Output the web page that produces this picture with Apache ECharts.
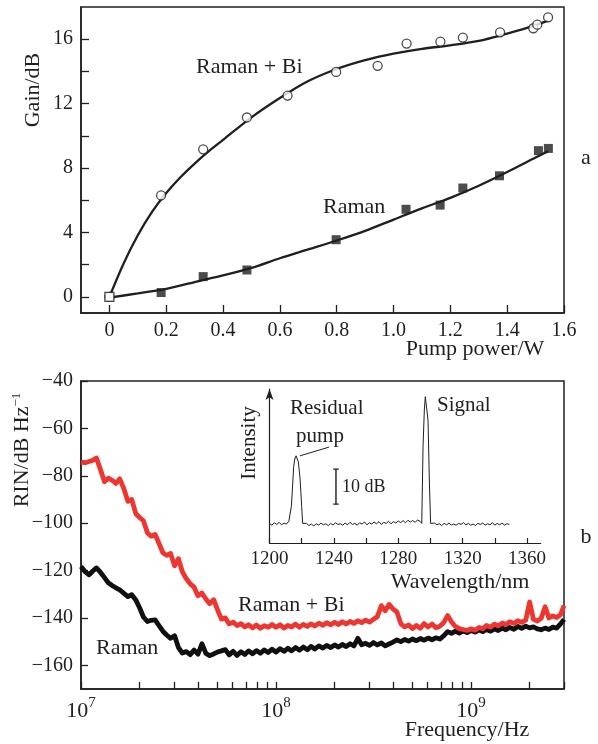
<!DOCTYPE html>
<html><head><meta charset="utf-8">
<script src="https://cdn.jsdelivr.net/npm/echarts@6/dist/echarts.min.js"></script>
<style>html,body{margin:0;padding:0;background:#fff}#c{width:598px;height:744px}</style>
</head><body><div id="c"></div>
<script>
// ---------- (a) Gain vs pump power ----------
const pumpBi = [0, 0.182, 0.33, 0.484, 0.627, 0.798, 0.944, 1.046, 1.165, 1.244, 1.375, 1.492, 1.506, 1.544];
const gainBi = [0, 6.3, 9.16, 11.14, 12.5, 13.97, 14.35, 15.73, 15.85, 16.1, 16.43, 16.68, 16.9, 17.36];
const pumpRaman = [0, 0.182, 0.33, 0.484, 0.798, 1.044, 1.164, 1.244, 1.373, 1.51, 1.545];
const gainRaman = [0, 0.27, 1.26, 1.67, 3.55, 5.44, 5.7, 6.76, 7.52, 9.08, 9.22];
const fitBiX = [0, 0.05, 0.1, 0.15, 0.2, 0.25, 0.3, 0.35, 0.4, 0.5, 0.6, 0.7, 0.8, 0.9, 1.0, 1.1, 1.2, 1.3, 1.4, 1.47, 1.545];
const fitBiY = [0, 2.08, 3.83, 5.28, 6.45, 7.43, 8.28, 9.05, 9.75, 11.15, 12.35, 13.4, 14.15, 14.7, 15.1, 15.4, 15.62, 15.9, 16.35, 16.7, 17.15];
const fitRamanX = [0, 0.1, 0.2, 0.3, 0.4, 0.5, 0.6, 0.7, 0.8, 0.9, 1.0, 1.1, 1.2, 1.3, 1.4, 1.5, 1.545];
const fitRamanY = [-0.05, 0.22, 0.5, 0.92, 1.33, 1.8, 2.4, 2.95, 3.5, 4.1, 4.8, 5.5, 6.15, 6.9, 7.75, 8.65, 9.05];
const pumpTicks = [0, 0.2, 0.4, 0.6, 0.8, 1.0, 1.2, 1.4, 1.6];
const gainTicks = [0, 2, 4, 6, 8, 10, 12, 14, 16];
const gainLabels = [0, 4, 8, 12, 16];

// ---------- (b) RIN spectra ----------
const freqHz = [
1.00e7,1.05e7,1.10e7,1.15e7,1.20e7,1.26e7,1.32e7,1.38e7,1.45e7,1.51e7,1.58e7,1.66e7,1.74e7,1.82e7,1.91e7,2.00e7,2.09e7,2.19e7,2.29e7,2.40e7,2.51e7,2.63e7,2.75e7,2.88e7,3.02e7,3.16e7,3.31e7,3.47e7,3.63e7,3.80e7,3.98e7,4.17e7,4.37e7,4.57e7,4.79e7,5.01e7,5.25e7,5.50e7,5.75e7,6.03e7,6.31e7,6.61e7,6.92e7,7.24e7,7.59e7,7.94e7,8.32e7,8.71e7,9.12e7,9.55e7,
1.00e8,1.05e8,1.10e8,1.15e8,1.20e8,1.26e8,1.32e8,1.38e8,1.45e8,1.51e8,1.58e8,1.66e8,1.74e8,1.82e8,1.91e8,2.00e8,2.09e8,2.19e8,2.29e8,2.40e8,2.51e8,2.63e8,2.75e8,2.88e8,3.02e8,3.16e8,3.31e8,3.47e8,3.63e8,3.80e8,3.98e8,4.17e8,4.37e8,4.57e8,4.79e8,5.01e8,5.25e8,5.50e8,5.75e8,6.03e8,6.31e8,6.61e8,6.92e8,7.24e8,7.59e8,7.94e8,8.32e8,8.71e8,9.12e8,9.55e8,
1.00e9,1.05e9,1.10e9,1.15e9,1.20e9,1.26e9,1.32e9,1.38e9,1.45e9,1.51e9,1.58e9,1.66e9,1.74e9,1.82e9,1.91e9,2.00e9,2.09e9,2.19e9,2.29e9,2.40e9,2.51e9,2.63e9,2.75e9,2.88e9,3.00e9];
const rinBi = [
-74.2,-74.5,-74.0,-73.5,-72.5,-77.5,-82.5,-81.0,-82.0,-83.2,
-81.3,-85.5,-90.8,-90.0,-96.0,-97.6,-99.0,-104.0,-105.5,-104.8,
-108.5,-112.5,-113.6,-112.8,-118.0,-115.0,-120.5,-123.5,-125.6,-127.0,
-130.6,-129.5,-132.0,-134.0,-132.3,-136.5,-140.5,-140.0,-142.5,-141.8,
-143.2,-142.4,-143.8,-142.9,-144.2,-143.0,-144.4,-143.3,-143.9,-142.8,
-143.9,-142.9,-144.3,-143.2,-143.8,-142.6,-143.9,-142.7,-143.6,-142.5,
-143.4,-142.2,-143.1,-142.0,-142.9,-141.8,-142.8,-141.6,-142.6,-141.5,
-142.3,-141.2,-142.0,-140.9,-141.8,-140.6,-139.5,-134.8,-137.0,-134.3,
-136.2,-137.5,-142.5,-143.8,-143.0,-144.5,-143.2,-144.4,-142.4,-143.8,
-142.6,-144.1,-143.5,-142.0,-139.0,-141.6,-143.6,-144.5,-144.9,-145.3,
-144.6,-145.2,-144.0,-144.6,-143.2,-143.9,-142.6,-143.3,-142.1,-142.8,
-141.6,-142.3,-141.2,-141.9,-140.9,-133.3,-140.6,-141.3,-140.2,-135.3,
-140.0,-139.2,-139.8,-138.6,-134.8];
const rinRaman = [
-118.3,-120.5,-121.8,-120.2,-118.9,-120.8,-123.0,-125.2,-126.4,-127.3,
-128.2,-129.6,-131.0,-130.2,-132.4,-135.8,-139.6,-141.5,-141.0,-140.8,
-143.2,-145.6,-147.2,-148.6,-147.5,-152.5,-154.8,-154.2,-155.5,-153.6,
-155.3,-150.9,-155.0,-155.9,-155.2,-154.4,-153.9,-153.4,-155.6,-154.1,
-155.8,-154.3,-155.4,-153.9,-155.1,-153.8,-154.9,-153.5,-154.6,-153.2,
-154.4,-153.0,-154.1,-152.8,-153.9,-152.5,-153.6,-152.3,-153.4,-152.0,
-153.1,-151.8,-152.7,-151.6,-152.5,-151.4,-152.3,-151.2,-152.1,-150.9,
-151.8,-148.6,-151.3,-150.7,-151.6,-150.4,-151.4,-150.6,-151.8,-151.0,
-150.2,-149.3,-150.0,-149.1,-149.8,-148.9,-149.6,-148.7,-149.4,-148.5,
-149.2,-148.4,-148.9,-147.6,-145.8,-146.5,-145.6,-146.4,-145.5,-146.2,
-145.3,-146.0,-145.1,-145.8,-144.9,-145.6,-144.6,-145.3,-144.3,-145.0,
-144.0,-144.8,-143.6,-144.4,-143.5,-144.2,-143.8,-144.6,-145.0,-144.3,
-144.9,-143.9,-144.3,-142.5,-140.6];
const rinTicks = [-160, -140, -120, -100, -80, -60, -40];
const freqLabels = [1e7, 1e8, 1e9];
const freqTicks = [1e7,2e7,3e7,4e7,5e7,6e7,7e7,8e7,9e7,1e8,2e8,3e8,4e8,5e8,6e8,7e8,8e8,9e8,1e9,2e9,3e9];

// ---------- inset: optical spectrum ----------
const spectrum = [
[1200,-60.4],[1201.5,-60.9],[1203,-60.2],[1204.5,-60.7],[1206,-60.1],[1207.5,-60.8],[1209,-60.3],[1210.5,-60.6],[1212,-59.8],[1212.8,-60.3],
[1213.6,-55.5],[1214.2,-50.9],[1215.0,-44.2],[1215.7,-42.0],[1216.5,-41.1],[1217.2,-41.6],[1217.9,-42.8],[1218.9,-47.1],[1219.5,-51.5],[1220.0,-55.6],[1220.6,-60.4],
[1221.5,-60.9],[1223,-60.4],[1224.5,-61.0],[1226,-60.6],[1227.5,-61.1],[1229,-60.5],[1230.5,-60.9],[1232,-60.3],[1233.5,-60.8],[1235,-60.5],[1236.5,-61.0],[1238,-60.4],[1239.5,-60.9],[1241,-60.2],[1242.5,-60.7],[1244,-60.5],[1245.5,-60.9],[1247,-60.3],[1248.5,-60.8],[1250,-60.1],[1251.5,-60.7],[1253,-60.4],[1254.5,-60.9],[1256,-60.2],[1257.5,-60.6],[1259,-60.0],[1260.5,-60.8],[1262,-60.2],[1263.5,-60.6],[1265,-60.0],[1266.5,-60.5],[1268,-59.9],[1269.5,-60.7],[1271,-60.1],[1272.5,-60.4],[1274,-59.8],[1275.5,-60.5],[1277,-59.9],[1278.5,-60.3],[1280,-59.7],[1281.5,-60.2],[1283,-59.6],[1284.5,-60.2],[1286,-59.5],[1287.5,-60.0],[1289,-59.6],[1290.5,-60.1],[1292,-59.4],[1293.5,-59.8],
[1294.6,-60.4],[1295.4,-38.5],[1296.2,-28.0],[1296.8,-24.2],[1297.2,-24.7],[1297.7,-24.0],[1298.5,-30.9],[1299.3,-48.0],[1300.1,-60.4],
[1301,-60.9],[1302.5,-60.3],[1304,-60.8],[1305.5,-60.5],[1307,-61.0],[1308.5,-60.4],[1310,-60.8],[1311.5,-60.3],[1313,-60.9],[1314.5,-60.6],[1316,-60.9],[1317.5,-60.4],[1319,-60.7],[1320.5,-60.2],[1322,-60.8],[1323.5,-60.4],[1325,-60.9],[1326.5,-60.6],[1328,-61.0],[1329.5,-60.4],[1331,-60.7],[1332.5,-60.3],[1334,-60.9],[1335.5,-60.5],[1337,-60.8],[1338.5,-60.2],[1340,-60.9],[1341.5,-60.4],[1343,-60.8],[1344.5,-60.3],[1346,-60.9],[1347.5,-60.5],[1349,-60.7]];
const wlTicks = [1200,1220,1240,1260,1280,1300,1320,1340,1360];
const wlLabels = [1200,1240,1280,1320,1360];
const leaderLine = [[1218.9,-41.1],[1237.0,-38.6]];
const scaleBar = [[1241.3,-44.9],[1241.3,-54.9]];
const scaleCapTop = [[1239.6,-44.9],[1243.0,-44.9]];
const scaleCapBot = [[1239.6,-54.9],[1243.0,-54.9]];

const FONT = 'Liberation Serif';
const INK = '#1f1f1f';
const zip = (a, b) => a.map((v, i) => [v, b[i]]);

const chart = echarts.init(document.getElementById('c'), null, {renderer: 'canvas'});
const axisLine = {show: true, onZero: false, lineStyle: {color: INK, width: 1.5}};
const tickLbl = {color: INK, fontFamily: FONT, fontSize: 20};

const txt = (text, x, y, opts = {}) => ({
  type: 'text', x, y, rotation: opts.rot || 0, z: 100,
  style: Object.assign({text, fill: INK, font: (opts.size || 22) + 'px "' + FONT + '"',
    align: opts.align || 'center', verticalAlign: 'middle'}, opts.extra || {})
});

const option = {
  animation: false,
  textStyle: {fontFamily: FONT},
  grid: [
    {left: 81, top: 7, width: 483, height: 306, show: true, borderColor: INK, borderWidth: 1.5, containLabel: false},
    {left: 81, top: 381, width: 483, height: 308, show: true, borderColor: INK, borderWidth: 1.5, containLabel: false},
    {left: 269.5, top: 389, width: 271.2, height: 154, containLabel: false}
  ],
  xAxis: [
    {type: 'value', gridIndex: 0, min: -0.1, max: 1.6, axisLine,
     axisTick: {show: true, inside: true, length: 8, customValues: pumpTicks, lineStyle: {color: INK, width: 1.3}},
     axisLabel: Object.assign({customValues: pumpTicks, margin: 8,
       formatter: v => (v === 0 ? '0' : v.toFixed(1))}, tickLbl),
     splitLine: {show: false}},
    {type: 'log', logBase: 10, gridIndex: 1, min: 1e7, max: 3e9, axisLine,
     axisTick: {show: true, inside: true, length: 7, customValues: freqTicks, lineStyle: {color: INK, width: 1.3}},
     axisLabel: {customValues: freqLabels, margin: 7, color: INK,
       formatter: v => '{b|10}{s|' + Math.round(Math.log10(v)) + '}',
       rich: {b: {fontFamily: FONT, fontSize: 22, color: INK, lineHeight: 26, verticalAlign: 'bottom'},
              s: {fontFamily: FONT, fontSize: 15, color: INK, lineHeight: 26, verticalAlign: 'top'}}},
     splitLine: {show: false}, minorTick: {show: false}},
    {type: 'value', gridIndex: 2, min: 1200, max: 1368.5,
     axisLine: {show: true, onZero: false, lineStyle: {color: INK, width: 1.2}},
     axisTick: {show: true, inside: true, length: 5, customValues: wlTicks, lineStyle: {color: INK, width: 1.2}},
     axisLabel: Object.assign({customValues: wlLabels, margin: 7, formatter: v => String(v)}, tickLbl, {fontSize: 19}),
     splitLine: {show: false}}
  ],
  yAxis: [
    {type: 'value', gridIndex: 0, min: -1, max: 18, axisLine,
     axisTick: {show: true, inside: true, length: 8, customValues: gainTicks, lineStyle: {color: INK, width: 1.3}},
     axisLabel: Object.assign({customValues: gainLabels, margin: 8}, tickLbl),
     splitLine: {show: false}},
    {type: 'value', gridIndex: 1, min: -170, max: -40, axisLine,
     axisTick: {show: true, inside: true, length: 7, customValues: rinTicks, lineStyle: {color: INK, width: 1.3}},
     axisLabel: Object.assign({customValues: rinTicks, margin: 8,
       formatter: v => (v < 0 ? '\u2212' + Math.abs(v) : String(v))}, tickLbl),
     splitLine: {show: false}},
    {type: 'value', gridIndex: 2, min: -66, max: -22,
     axisLine: {show: true, onZero: false, symbol: ['none', 'arrow'], symbolSize: [6, 11], lineStyle: {color: INK, width: 1.2}},
     axisTick: {show: false}, axisLabel: {show: false}, splitLine: {show: false}}
  ],
  series: [
    {name: 'fit Raman + Bi', type: 'line', xAxisIndex: 0, yAxisIndex: 0, data: zip(fitBiX, fitBiY),
     smooth: 0.3, showSymbol: false, lineStyle: {color: INK, width: 2.3}, z: 2},
    {name: 'fit Raman', type: 'line', xAxisIndex: 0, yAxisIndex: 0, data: zip(fitRamanX, fitRamanY),
     smooth: 0.3, showSymbol: false, lineStyle: {color: INK, width: 2.3}, z: 2},
    {name: 'Raman + Bi', type: 'scatter', xAxisIndex: 0, yAxisIndex: 0, data: zip(pumpBi, gainBi),
     symbol: 'circle', symbolSize: 9, itemStyle: {color: '#fff', borderColor: INK, borderWidth: 1.3}, z: 3},
    {name: 'Raman', type: 'scatter', xAxisIndex: 0, yAxisIndex: 0,
     data: zip(pumpRaman, gainRaman).map((p, i) => i === 0 ? {value: p, itemStyle: {color: '#fff', borderColor: INK, borderWidth: 1.3}} : p),
     symbol: 'rect', symbolSize: 9, itemStyle: {color: INK}, z: 4},
    {name: 'RIN Raman', type: 'line', xAxisIndex: 1, yAxisIndex: 1, data: zip(freqHz, rinRaman),
     showSymbol: false, lineStyle: {color: '#101010', width: 4.8, join: 'round'}, z: 2},
    {name: 'RIN Raman + Bi', type: 'line', xAxisIndex: 1, yAxisIndex: 1, data: zip(freqHz, rinBi),
     showSymbol: false, lineStyle: {color: '#ee3631', width: 4.8, join: 'round'}, z: 2},
    {name: 'spectrum', type: 'line', xAxisIndex: 2, yAxisIndex: 2, data: spectrum,
     showSymbol: false, lineStyle: {color: INK, width: 1}, z: 3},
    {name: 'leader', type: 'line', xAxisIndex: 2, yAxisIndex: 2, data: leaderLine,
     showSymbol: false, lineStyle: {color: INK, width: 1}, z: 3},
    {name: 'bar', type: 'line', xAxisIndex: 2, yAxisIndex: 2, data: scaleBar,
     showSymbol: false, lineStyle: {color: INK, width: 1.4}, z: 3},
    {name: 'capTop', type: 'line', xAxisIndex: 2, yAxisIndex: 2, data: scaleCapTop,
     showSymbol: false, lineStyle: {color: INK, width: 1.4}, z: 3},
    {name: 'capBot', type: 'line', xAxisIndex: 2, yAxisIndex: 2, data: scaleCapBot,
     showSymbol: false, lineStyle: {color: INK, width: 1.4}, z: 3}
  ],
  graphic: [
    txt('Gain/dB', 33, 90, {rot: Math.PI / 2}),
    txt('Pump power/W', 475, 349),
    txt('a', 586, 158),
    txt('Raman + Bi', 196, 67, {align: 'left'}),
    txt('Raman', 323, 207, {align: 'left'}),
    {type: 'text', x: 22, y: 450, rotation: Math.PI / 2, z: 100,
     style: {text: 'RIN/dB Hz{s|\u22121}', fill: INK, font: '22px "' + FONT + '"', align: 'center', verticalAlign: 'middle',
       rich: {s: {fontSize: 13, fontFamily: FONT, fill: INK, verticalAlign: 'top', lineHeight: 24}}}},
    txt('Frequency/Hz', 467, 730),
    txt('b', 586, 537),
    txt('Raman + Bi', 238, 605, {align: 'left'}),
    txt('Raman', 96, 648, {align: 'left'}),
    txt('Intensity', 249, 443, {rot: Math.PI / 2, size: 21}),
    txt('Wavelength/nm', 460, 582),
    txt('Residual', 290, 408, {align: 'left', size: 21}),
    txt('pump', 320, 436, {size: 21}),
    txt('Signal', 437, 405, {align: 'left', size: 21}),
    txt('10 dB', 342, 487, {align: 'left', size: 18})
  ]
};
chart.setOption(option);
</script>
</body></html>
